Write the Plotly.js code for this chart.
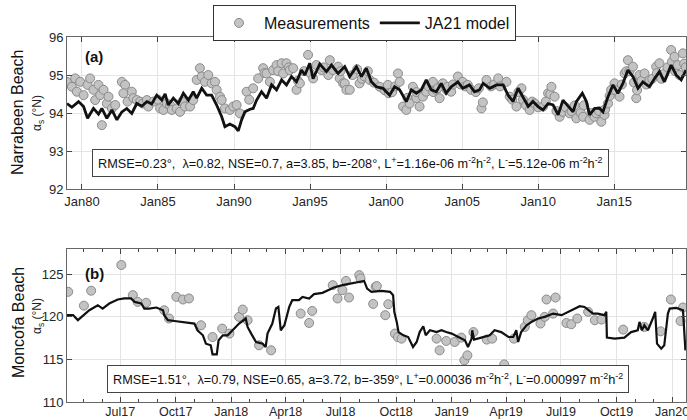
<!DOCTYPE html>
<html>
<head>
<meta charset="utf-8">
<script src="https://cdn.plot.ly/plotly-3.0.1.min.js"></script>
<style>html,body{margin:0;padding:0;background:#fff;}#chart{width:687px;height:420px;}</style>
</head>
<body>
<div id="chart"></div>
<script>
// ---------- Panel (a): Narrabeen Beach (decimal years) ----------
const narraModelYear = [1979.02,1979.34,1979.78,1980.11,1980.37,1980.76,1981.09,1981.31,1981.64,1981.97,1982.30,1982.63,1982.95,1983.28,1983.61,1983.94,1984.27,1984.59,1984.92,1985.25,1985.47,1985.68,1986.01,1986.34,1986.67,1987.00,1987.32,1987.55,1987.88,1988.20,1988.53,1988.86,1989.19,1989.40,1989.73,1990.06,1990.28,1990.50,1990.72,1991.05,1991.26,1991.49,1991.81,1992.14,1992.47,1992.80,1993.13,1993.45,1993.78,1994.11,1994.44,1994.66,1994.98,1995.20,1995.64,1996.08,1996.41,1996.84,1997.28,1997.61,1998.05,1998.38,1998.70,1999.03,1999.36,1999.79,2000.23,2000.56,2000.89,2001.33,2001.66,2001.99,2002.31,2002.64,2002.97,2003.30,2003.63,2003.95,2004.28,2004.72,2005.04,2005.48,2005.81,2006.14,2006.38,2006.82,2007.26,2007.70,2008.02,2008.35,2008.68,2009.01,2009.34,2009.66,2009.99,2010.32,2010.65,2010.98,2011.31,2011.63,2011.96,2012.29,2012.51,2012.90,2013.17,2013.38,2013.71,2014.04,2014.26,2014.59,2014.92,2015.24,2015.57,2015.90,2016.23,2016.56,2016.88,2017.32,2017.65,2017.97,2018.30,2018.74,2019.07,2019.40,2019.72];
const narraModelValue = [94.25,94.15,94.30,94.17,93.86,94.12,93.97,94.12,93.86,94.08,93.82,94.03,94.12,93.99,94.25,94.18,94.30,94.24,94.47,94.34,94.50,94.21,94.39,94.25,94.52,94.34,94.56,94.39,94.65,94.47,94.47,94.21,93.90,93.64,93.71,93.64,93.53,93.82,94.03,94.10,94.12,94.34,94.56,94.39,94.74,94.61,94.87,94.74,94.96,94.82,95.13,95.00,95.31,94.90,95.29,95.09,95.26,95.04,95.22,94.96,95.22,94.96,95.18,94.82,94.69,94.65,94.47,94.69,94.61,94.30,94.61,94.52,94.61,94.87,94.61,94.56,94.78,94.52,94.69,94.82,94.65,94.74,94.56,94.61,94.78,94.65,94.74,94.74,94.47,94.30,94.65,94.39,94.17,94.30,94.17,94.08,94.25,94.21,93.95,94.34,94.17,94.03,94.30,94.52,94.30,93.95,94.12,94.12,94.03,94.43,94.74,94.52,94.78,95.13,94.96,94.65,94.82,94.69,94.91,95.09,94.82,95.26,95.00,94.87,95.13];

const narraMeasYear = [1979.02,1979.34,1979.56,1979.89,1979.67,1980.11,1980.37,1980.54,1980.76,1980.87,1981.09,1981.20,1981.42,1981.31,1981.64,1981.75,1981.97,1982.19,1982.63,1982.84,1982.73,1983.00,1983.28,1983.39,1983.61,1983.83,1984.00,1984.27,1984.37,1984.70,1985.00,1985.14,1985.36,1985.58,1985.80,1985.91,1986.23,1986.45,1986.60,1986.78,1987.11,1987.32,1987.55,1987.76,1987.88,1988.09,1988.31,1988.53,1988.75,1988.86,1989.08,1989.19,1989.40,1989.73,1989.95,1990.17,1990.39,1990.83,1991.00,1991.26,1991.59,1991.92,1992.00,1992.14,1992.36,1992.57,1992.80,1992.90,1993.13,1993.23,1993.45,1993.60,1993.67,1993.89,1994.11,1994.20,1994.33,1994.60,1994.87,1995.00,1995.20,1995.42,1995.75,1995.90,1996.20,1996.30,1996.51,1996.84,1996.95,1997.00,1997.17,1997.28,1997.39,1997.61,1997.80,1998.10,1998.26,1998.40,1998.59,1998.80,1998.92,1999.20,1999.58,1999.90,2000.12,2000.18,2000.40,2000.60,2000.78,2000.89,2001.11,2001.33,2001.40,2001.55,2001.76,2001.99,2002.00,2002.20,2002.42,2002.64,2002.80,2003.08,2003.10,2003.30,2003.40,2003.52,2003.73,2004.00,2004.06,2004.28,2004.40,2004.72,2004.90,2005.04,2005.20,2005.37,2005.60,2005.90,2006.10,2006.27,2006.36,2006.60,2006.90,2007.10,2007.37,2007.50,2007.91,2008.13,2008.30,2008.57,2008.70,2008.90,2009.00,2009.20,2009.44,2009.60,2009.77,2010.00,2010.32,2010.50,2010.65,2010.80,2010.87,2011.08,2011.20,2011.41,2011.63,2011.80,2012.07,2012.20,2012.40,2012.51,2012.80,2012.95,2013.00,2013.38,2013.50,2013.70,2013.82,2014.00,2014.15,2014.36,2014.40,2014.59,2014.70,2014.80,2015.02,2015.10,2015.35,2015.50,2015.68,2015.80,2015.90,2016.00,2016.23,2016.30,2016.45,2016.50,2016.66,2016.80,2016.99,2017.10,2017.32,2017.50,2017.76,2017.80,2017.97,2018.10,2018.30,2018.50,2018.74,2018.80,2018.96,2019.00,2019.18,2019.30,2019.51,2019.60,2019.70];
const narraMeasValue = [94.82,94.69,94.91,94.82,94.56,94.47,94.74,94.91,94.61,94.34,94.74,94.47,94.61,93.68,94.25,94.43,94.12,94.21,94.82,94.74,94.52,94.30,94.56,94.39,94.34,94.30,94.25,94.34,94.17,94.30,94.35,94.12,94.08,94.25,94.20,94.08,94.12,94.03,94.30,94.17,94.17,94.34,94.87,95.18,94.96,94.82,95.00,94.78,94.82,94.61,94.43,94.34,94.12,94.08,94.17,94.21,93.99,94.56,94.35,94.65,94.91,95.18,95.05,95.04,94.82,95.13,95.26,95.10,95.31,95.04,95.31,95.20,95.13,95.18,94.61,94.85,94.78,95.10,95.53,95.05,94.91,95.26,95.13,95.20,95.00,95.39,95.13,95.22,94.91,95.10,94.78,94.78,94.61,94.61,95.00,95.15,94.78,94.90,94.96,95.10,94.87,94.80,94.69,94.60,94.74,94.52,94.55,94.70,95.04,94.82,94.17,94.08,94.40,94.25,94.69,94.39,94.55,94.17,94.43,94.56,94.70,94.82,94.55,94.61,94.65,94.39,94.78,94.60,94.69,94.56,94.75,94.96,94.75,94.82,94.70,94.74,94.61,94.55,94.65,94.12,94.28,94.87,94.70,94.75,94.91,94.70,94.82,94.43,94.35,94.17,94.55,94.65,94.35,94.20,94.08,94.30,94.25,94.15,94.17,94.30,94.52,94.50,94.69,94.43,94.05,93.90,94.03,94.15,93.99,94.05,94.20,93.86,94.00,93.90,94.20,93.82,94.00,93.90,93.99,94.05,93.77,93.95,94.10,94.25,94.45,94.61,94.78,94.60,94.43,94.75,95.04,95.10,95.39,95.10,95.22,94.80,94.39,94.60,95.00,94.85,95.04,94.75,94.87,94.90,95.22,95.05,95.31,94.90,95.04,95.20,95.66,95.35,95.48,95.10,95.26,95.00,95.57,95.30,95.20];

// ---------- Panel (b): Moncofa Beach (days since 2017-07-01) ----------
const moncofaModelDay = [-89,-78,-70,-67,-64,-51,-37,-29,-18,-4,7,18,24,35,40,48,60,71,73,79,90,101,112,123,128,137,142,150,153,160,163,170,178,186,197,208,211,217,225,236,241,244,252,258,262,266,272,280,285,296,302,313,321,335,346,354,368,385,398,404,409,416,433,447,452,454,458,461,469,477,485,491,496,502,506,513,524,532,540,549,560,571,576,582,583,586,598,612,620,631,643,651,656,659,664,673,681,692,703,717,731,742,753,761,769,777,783,791,802,805,806,819,835,846,857,860,864,868,874,882,886,889,896,901,907,910,921,932,936];
const moncofaModelValue = [120.18,120.2,119.6,119.8,119.98,120.76,121.35,120.96,121.55,122.02,122.14,122.14,121.74,121.55,120.96,120.96,121.08,120.76,120.18,119.6,119.5,119.39,119.27,119.2,118.41,117.82,116.84,116.65,115.59,115.59,117.24,117.82,117.82,118.41,119.2,119.79,118.8,118.02,117.04,116.84,116.45,118.02,119.2,120.96,121.15,118.41,119.0,121.15,121.94,121.94,122.33,122.14,122.65,122.8,123.2,123.43,123.7,123.9,124.1,124.2,123.3,122.92,123.04,122.92,122.53,120.57,119.39,118.2,117.82,117.62,116.45,117.04,118.2,118.88,117.82,118.41,118.2,118.41,118.2,118.02,117.62,117.24,116.45,117.43,118.41,117.32,117.55,117.82,118.41,118.2,117.62,117.62,118.41,117.04,118.2,119.0,119.39,119.79,119.98,120.37,120.18,120.57,120.96,121.24,121.15,120.76,120.37,120.37,120.18,120.57,117.55,117.43,117.55,118.2,118.41,119.39,118.41,119.0,118.41,119.79,120.57,116.84,116.26,116.65,120.37,120.96,121.04,120.76,116.06];

const moncofaMeasDay = [-86,-60,-48,2,21,29,43,73,81,93,104,114,134,153,169,181,197,203,211,230,250,299,313,318,352,360,368,374,379,396,398,419,423,425,439,444,455,460,466,524,529,540,554,561,565,570,575,585,607,616,636,652,670,675,681,696,703,706,717,721,739,747,757,775,786,797,833,868,895,912,928,932];
const moncofaMeasValue = [122.92,121.3,123.05,126.06,122.53,121.74,121.63,120.76,119.79,122.33,122.02,122.14,119.0,117.62,118.61,118.02,119.98,120.84,119.59,116.65,116.06,120.37,119.27,120.68,123.7,122.14,123.12,124.2,122.25,124.88,124.49,121.5,123.51,123.59,120.18,121.47,118.02,117.6,117.43,117.43,116.06,117.16,117.04,113.78,117.55,114.88,115.47,118.2,117.32,117.43,114.41,117.43,118.8,119.59,120.18,119.2,119.98,122.02,120.37,122.25,119.27,119.12,119.79,120.57,119.59,119.67,118.49,118.8,118.29,122.02,119.5,121.08];

// ---------- Text ----------
const legendNames = ['Measurements', 'JA21 model'];
const siteTitles = ['Narrabeen Beach', 'Moncofa Beach'];
const panelLabels = ['(a)', '(b)'];
const statsA = 'RMSE=0.23°,  λ=0.82, NSE=0.7, a=3.85, b=-208°, L<sup>+</sup>=1.16e-06 m<sup>-2</sup>h<sup>-2</sup>, L<sup>-</sup>=5.12e-06 m<sup>-2</sup>h<sup>-2</sup>';
const statsB = 'RMSE=1.51°,  λ=0.79, NSE=0.65, a=3.72, b=-359°, L<sup>+</sup>=0.00036 m<sup>-2</sup>h<sup>-2</sup>, L<sup>-</sup>=0.000997 m<sup>-2</sup>h<sup>-2</sup>';

// ---------- helpers (date conversion only) ----------
function decYearToDate(y) {
  const yr = Math.floor(y);
  const s = Date.UTC(yr, 0, 1), e = Date.UTC(yr + 1, 0, 1);
  return new Date(s + (y - yr) * (e - s)).toISOString().slice(0, 10);
}
function dayToDate(d) {
  return new Date(Date.UTC(2017, 6, 1) + d * 86400000).toISOString().slice(0, 10);
}

const FONT = 'Liberation Sans, Arial, sans-serif';
const W = 687, H = 420, ML = 67, MR = 1;
const PW = W - ML - MR;
const px = x => (x - ML) / PW;
const py = y => 1 - y / H;

const markerStyle = {size: 9, color: '#c3c3c3', line: {color: '#8a8a8a', width: 1}};

const traces = [
  {x: narraMeasYear.map(decYearToDate), y: narraMeasValue, type: 'scatter', mode: 'markers',
   name: legendNames[0], marker: markerStyle, xaxis: 'x', yaxis: 'y'},
  {x: narraModelYear.map(decYearToDate), y: narraModelValue, type: 'scatter', mode: 'lines',
   name: legendNames[1], line: {color: '#111', width: 2.8}, xaxis: 'x', yaxis: 'y'},
  {x: moncofaMeasDay.map(dayToDate), y: moncofaMeasValue, type: 'scatter', mode: 'markers',
   name: legendNames[0], marker: markerStyle, xaxis: 'x2', yaxis: 'y2', showlegend: false},
  {x: moncofaModelDay.map(dayToDate), y: moncofaModelValue, type: 'scatter', mode: 'lines',
   name: legendNames[1], line: {color: '#111', width: 2.2}, xaxis: 'x2', yaxis: 'y2', showlegend: false}
];

const axCommon = {
  showline: true, linecolor: '#666', linewidth: 1, mirror: 'ticks',
  ticks: 'inside', ticklen: 5, tickcolor: '#444',
  showgrid: true, gridcolor: '#e4e4e4', gridwidth: 1, zeroline: false,
  tickfont: {family: FONT, size: 13, color: '#262626'}, automargin: false,
  ticklabeloverflow: 'allow'
};

const layout = {
  width: W, height: H,
  margin: {l: ML, r: MR, t: 0, b: 0},
  paper_bgcolor: '#fff', plot_bgcolor: '#fff',
  font: {family: FONT, color: '#262626'},
  showlegend: true,
  legend: {orientation: 'h', x: px(213), xanchor: 'left', y: py(5), yanchor: 'top',
           bordercolor: '#333', borderwidth: 1, bgcolor: '#fff', itemwidth: 40,
           font: {family: FONT, size: 16, color: '#111'}, traceorder: 'normal'},
  xaxis: Object.assign({}, axCommon, {anchor: 'y', domain: [0, 1], type: 'date',
           range: ['1979-01-08', '2019-09-20'], dtick: 'M60', tick0: '1980-01-01', tickformat: '%b%y'}),
  yaxis: Object.assign({}, axCommon, {anchor: 'x', domain: [py(189), py(37)], range: [92, 96], dtick: 1}),
  xaxis2: Object.assign({}, axCommon, {anchor: 'y2', domain: [0, 1], type: 'date',
           range: ['2017-04-04', '2020-01-24'], dtick: 'M3', tick0: '2017-01-01', tickformat: '%b%y',
           tickfont: {family: FONT, size: 12.5, color: '#262626'}, ticklabelstandoff: -2,
           minor: {dtick: 'M1', ticks: 'inside', ticklen: 3, tickcolor: '#444', showgrid: false}}),
  yaxis2: Object.assign({}, axCommon, {anchor: 'x2', domain: [py(402), py(248.5)], range: [110, 128],
           tickvals: [110, 115, 120, 125]}),
  annotations: [
    {text: '<b>' + panelLabels[0] + '</b>', xref: 'paper', yref: 'paper', x: px(83), y: py(57),
     xanchor: 'left', yanchor: 'middle', showarrow: false, font: {family: FONT, size: 15, color: '#111'}},
    {text: '<b>' + panelLabels[1] + '</b>', xref: 'paper', yref: 'paper', x: px(83), y: py(273),
     xanchor: 'left', yanchor: 'middle', showarrow: false, font: {family: FONT, size: 15, color: '#111'}},
    {text: siteTitles[0], xref: 'paper', yref: 'paper', x: px(18), y: py(112), textangle: -90,
     xanchor: 'center', yanchor: 'middle', showarrow: false, font: {family: FONT, size: 16, color: '#111'}},
    {text: 'α<sub>s</sub> (°N)', xref: 'paper', yref: 'paper', x: px(38), y: py(113), textangle: -90,
     xanchor: 'center', yanchor: 'middle', showarrow: false, font: {family: FONT, size: 12, color: '#222'}},
    {text: siteTitles[1], xref: 'paper', yref: 'paper', x: px(18), y: py(322), textangle: -90,
     xanchor: 'center', yanchor: 'middle', showarrow: false, font: {family: FONT, size: 16, color: '#111'}},
    {text: 'α<sub>s</sub> (°N)', xref: 'paper', yref: 'paper', x: px(38), y: py(316), textangle: -90,
     xanchor: 'center', yanchor: 'middle', showarrow: false, font: {family: FONT, size: 12, color: '#222'}},
    {text: statsA, xref: 'paper', yref: 'paper', x: px(92), y: py(149), xanchor: 'left', yanchor: 'top',
     showarrow: false, bgcolor: '#fff', bordercolor: '#444', borderwidth: 1, borderpad: 5,
     font: {family: FONT, size: 12.7, color: '#111'}},
    {text: statsB, xref: 'paper', yref: 'paper', x: px(107), y: py(365), xanchor: 'left', yanchor: 'top',
     showarrow: false, bgcolor: '#fff', bordercolor: '#444', borderwidth: 1, borderpad: 5,
     font: {family: FONT, size: 12.7, color: '#111'}}
  ]
};

Plotly.newPlot('chart', traces, layout, {staticPlot: true, displayModeBar: false});
</script>
</body>
</html>
